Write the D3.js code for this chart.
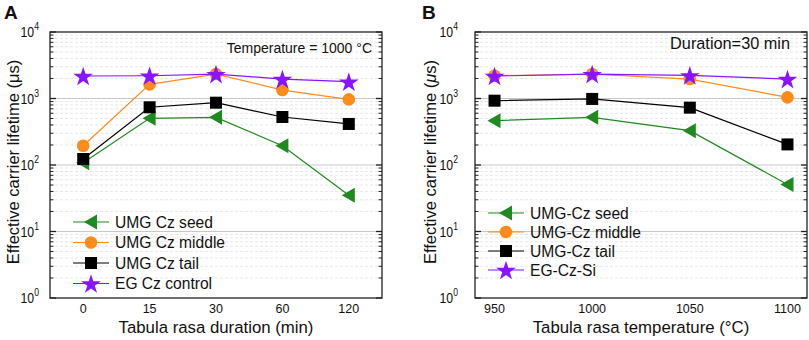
<!DOCTYPE html>
<html lang="en">
<head>
<meta charset="UTF-8">
<title>Carrier lifetime</title>
<script src="https://d3js.org/d3.v7.min.js"></script>
<style>
  body { margin: 0; background: #fff; }
  svg { font-family: "Liberation Sans", Arial, sans-serif; }
</style>
</head>
<body>
<svg width="809" height="340"></svg>
<script>
// panel A: tabula rasa duration at 1000 C
var durations = ["0", "15", "30", "60", "120"];
var durSeed   = [108, 503, 521, 195, 35];
var durMiddle = [195, 1630, 2330, 1340, 970];
var durTail   = [123, 738, 865, 527, 414];
var durEG     = [2180, 2200, 2330, 1960, 1790];

// panel B: tabula rasa temperature for 30 min
var temps      = [950, 1000, 1050, 1100];
var tempTicks  = [950, 1000, 1050, 1100];
var tempSeed   = [464, 521, 328, 51];
var tempMiddle = [2200, 2330, 1960, 1040];
var tempTail   = [927, 985, 728, 204];
var tempEG     = [2180, 2330, 2230, 1960];

var yTicks = [1, 10, 100, 1000, 10000];

var svg = d3.select("svg");
var plotTop = 32, plotBottom = 298;

var green = "#1f8a1f", orange = "#ff8c1a", black = "#000", purple = "#8a14ff";

var styles = [
  {name: "seed", color: green, shape: "tri"},
  {name: "middle", color: orange, shape: "circle"},
  {name: "tail", color: black, shape: "square"},
  {name: "eg", color: purple, shape: "star"}
];

function marker(g, shape, color, x, y) {
  if (shape === "circle") {
    g.append("circle").attr("cx", x).attr("cy", y).attr("r", 6.3).attr("fill", color);
  } else if (shape === "square") {
    g.append("rect").attr("x", x - 6).attr("y", y - 6).attr("width", 12).attr("height", 12).attr("fill", color);
  } else if (shape === "tri") {
    g.append("path").attr("d", "M" + (x - 7) + "," + y + "L" + (x + 6) + "," + (y - 7.5) + "L" + (x + 6) + "," + (y + 7.5) + "Z").attr("fill", color);
  } else {
    g.append("path").attr("d", d3.symbol().type(d3.symbolStar).size(120)())
      .attr("transform", "translate(" + x + "," + (y + 1) + ")").attr("fill", color);
  }
}

function panel(opt) {
  var g = svg.append("g");
  var y = d3.scaleLog().domain([1, 10000]).range([plotBottom, plotTop]);
  var x = opt.x;
  var left = opt.left, right = opt.right;

  // minor grid
  var minors = [];
  for (var e = 0; e < 4; e++) for (var m = 2; m <= 9; m++) minors.push(m * Math.pow(10, e));
  g.selectAll(".minor").data(minors).enter().append("line")
    .attr("x1", left).attr("x2", right)
    .attr("y1", d => y(d)).attr("y2", d => y(d))
    .attr("stroke", "#e2e2e2").attr("stroke-width", 0.8).attr("stroke-dasharray", "3,2");
  g.selectAll(".major").data(yTicks.slice(1, 4)).enter().append("line")
    .attr("x1", left).attr("x2", right)
    .attr("y1", d => y(d)).attr("y2", d => y(d))
    .attr("stroke", "#c8c8c8").attr("stroke-width", 1);

  // frame
  g.append("rect").attr("x", left).attr("y", plotTop).attr("width", right - left).attr("height", plotBottom - plotTop)
    .attr("fill", "none").attr("stroke", "#222").attr("stroke-width", 1.3);

  // ticks on both sides, pointing in
  [[left, 1], [right, -1]].forEach(function(s) {
    g.selectAll(null).data(minors).enter().append("line")
      .attr("x1", s[0]).attr("x2", s[0] + s[1] * 3.5)
      .attr("y1", d => y(d)).attr("y2", d => y(d))
      .attr("stroke", "#222").attr("stroke-width", 1);
    g.selectAll(null).data(yTicks).enter().append("line")
      .attr("x1", s[0]).attr("x2", s[0] + s[1] * 6)
      .attr("y1", d => y(d)).attr("y2", d => y(d))
      .attr("stroke", "#222").attr("stroke-width", 1.3);
  });

  // y tick labels (slightly condensed like the original)
  var yl = g.selectAll(".ylab").data(yTicks).enter().append("text")
    .attr("transform", d => "translate(" + (left - opt.yLabGap) + "," + (y(d) + 5) + ") scale(0.82,1)")
    .attr("text-anchor", "end").attr("font-size", 15).attr("fill", "#111");
  yl.append("tspan").text("10");
  yl.append("tspan").attr("dy", -7).attr("font-size", 10.5).text(d => Math.round(Math.log10(d)));

  // x tick labels
  g.selectAll(".xlab").data(opt.ticks).enter().append("text")
    .attr("x", d => x(d)).attr("y", plotBottom + 15)
    .attr("text-anchor", "middle").attr("font-size", 12.5).attr("fill", "#111")
    .text(d => d);

  // x title
  g.append("text").attr("x", (left + right) / 2 + opt.titleShift).attr("y", 333)
    .attr("text-anchor", "middle").attr("font-size", 16.8).attr("fill", "#111")
    .text(opt.xTitle);

  // y title
  var yt = g.append("text").attr("transform", "translate(" + (left - opt.yTitleGap) + "," + ((plotTop + plotBottom) / 2 - 3) + ") rotate(-90)")
    .attr("text-anchor", "middle").attr("font-size", 16.5).attr("fill", "#111");
  yt.append("tspan").text("Effective carrier lifetime (");
  yt.append("tspan").attr("font-style", opt.italicMu ? "italic" : "normal").text("μ");
  yt.append("tspan").text("s)");

  // series
  opt.series.forEach(function(vals, i) {
    var st = styles[i];
    var pts = opt.cats.map((c, j) => [x(c), y(vals[j])]);
    g.append("path").attr("d", d3.line()(pts)).attr("fill", "none")
      .attr("stroke", st.color).attr("stroke-width", 1.2);
  });
  opt.series.forEach(function(vals, i) {
    var st = styles[i];
    opt.cats.forEach((c, j) => marker(g, st.shape, st.color, x(c), y(vals[j])));
  });

  // annotation
  g.append("text").attr("x", opt.noteX).attr("y", opt.noteY).attr("text-anchor", "end")
    .attr("font-size", opt.noteSize).attr("fill", "#111").text(opt.note);

  // legend
  opt.legend.forEach(function(name, i) {
    var st = styles[i];
    var ly = opt.legY + i * opt.legStep;
    g.append("line").attr("x1", opt.legX).attr("x2", opt.legX + 36).attr("y1", ly).attr("y2", ly)
      .attr("stroke", st.color).attr("stroke-width", 1.2);
    marker(g, st.shape, st.color, opt.legX + 18, ly);
    g.append("text").attr("x", opt.legX + 42).attr("y", ly + 5.5)
      .attr("font-size", opt.legSize).attr("fill", "#111").text(name);
  });

  // panel letter
  g.append("text").attr("x", opt.letterX).attr("y", 19).attr("font-size", 19)
    .attr("font-weight", "bold").attr("fill", "#111").text(opt.letter);
}

panel({
  letter: "A", letterX: 4,
  left: 50, right: 382,
  x: d3.scalePoint().domain(durations).range([50, 382]).padding(0.5),
  cats: durations, ticks: durations,
  series: [durSeed, durMiddle, durTail, durEG],
  xTitle: "Tabula rasa duration (min)", titleShift: 0,
  italicMu: false, yLabGap: 11, yTitleGap: 31,
  note: "Temperature = 1000 °C", noteX: 372, noteY: 53, noteSize: 14,
  legend: ["UMG Cz seed", "UMG Cz middle", "UMG Cz tail", "EG Cz control"],
  legX: 73, legY: 222, legStep: 20.5, legSize: 15.6
});

panel({
  letter: "B", letterX: 422,
  left: 475, right: 807,
  x: d3.scaleLinear().domain([940, 1110]).range([475, 807]),
  cats: temps, ticks: tempTicks,
  series: [tempSeed, tempMiddle, tempTail, tempEG],
  xTitle: "Tabula rasa temperature  (°C)", titleShift: 0,
  italicMu: true, yLabGap: 17, yTitleGap: 39,
  note: "Duration=30 min", noteX: 790, noteY: 49, noteSize: 16.3,
  legend: ["UMG-Cz seed", "UMG-Cz middle", "UMG-Cz tail", "EG-Cz-Si"],
  legX: 488, legY: 213, legStep: 19, legSize: 15.6
});
</script>
</body>
</html>
